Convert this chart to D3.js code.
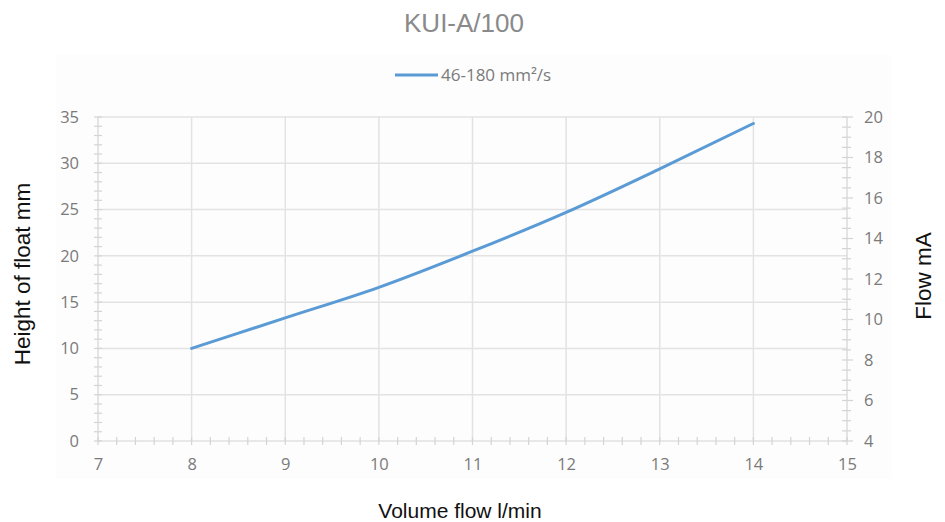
<!doctype html>
<html>
  <head>
    <style>
      body { margin: 0; background: #fff; }
      text { font-family: "Open Sans", sans-serif; }
    </style>
  </head>
  <body>
    <svg width="945" height="522" id="content"></svg>

    <script src="https://cdnjs.cloudflare.com/ajax/libs/d3/7.8.5/d3.min.js"></script>
    <script>
      // data
      const flow = [8, 9, 10, 11, 12, 13, 14]
      const floatHeight = [10, 13.3, 16.6, 20.5, 24.7, 29.4, 34.3]
      const seriesName = '46-180 mm²/s'
      const xTicks = [7, 8, 9, 10, 11, 12, 13, 14, 15]
      const yTicks = [0, 5, 10, 15, 20, 25, 30, 35]
      const y2Ticks = [4, 6, 8, 10, 12, 14, 16, 18, 20]

      const svg = d3.select('#content')
      const plotLeft = 98, plotRight = 847, plotTop = 117, plotBottom = 441

      const x = d3.scaleLinear().domain([7, 15]).range([plotLeft, plotRight])
      const y = d3.scaleLinear().domain([0, 35]).range([plotBottom, plotTop])
      const y2 = d3.scaleLinear().domain([4, 20]).range([plotBottom, plotTop])

      // faint chart area
      svg.append('rect')
        .attr('x', 56).attr('y', 55).attr('width', 836).attr('height', 424)
        .style('fill', '#fdfdfd')

      // grid
      svg.append('g').selectAll('line').data(yTicks.slice(1)).join('line')
        .attr('x1', plotLeft).attr('x2', plotRight)
        .attr('y1', d => y(d)).attr('y2', d => y(d))
        .style('stroke', '#e3e3e3').style('stroke-width', 1.5)
      svg.append('g').selectAll('line').data(xTicks.slice(1, -1)).join('line')
        .attr('x1', d => x(d)).attr('x2', d => x(d))
        .attr('y1', plotTop).attr('y2', plotBottom)
        .style('stroke', '#e3e3e3').style('stroke-width', 1.5)

      // axis lines + crossing ticks
      const axisColor = '#d4d4d4'
      const ax = svg.append('g').style('stroke', axisColor).style('stroke-width', 1.2)
      ax.append('line').attr('x1', plotLeft).attr('x2', plotLeft).attr('y1', plotTop).attr('y2', plotBottom)
      ax.append('line').attr('x1', plotRight).attr('x2', plotRight).attr('y1', plotTop).attr('y2', plotBottom)
      ax.append('line').attr('x1', plotLeft).attr('x2', plotRight).attr('y1', plotBottom).attr('y2', plotBottom)

      ax.append('g').selectAll('line').data(d3.range(0, 36, 1)).join('line')
        .attr('x1', plotLeft - 4).attr('x2', plotLeft + 4)
        .attr('y1', d => y(d)).attr('y2', d => y(d))
      ax.append('g').selectAll('line').data(d3.range(4, 20.01, 0.5)).join('line')
        .attr('x1', plotRight - 5)
        .attr('x2', d => plotRight + (d % 2 === 0 ? 6 : 4))
        .attr('y1', d => y2(d)).attr('y2', d => y2(d))
      ax.append('g').selectAll('line').data(d3.range(7, 15.01, 0.2)).join('line')
        .attr('x1', d => x(d)).attr('x2', d => x(d))
        .attr('y1', plotBottom - 4).attr('y2', plotBottom + 4)

      // tick labels via d3 axes
      const labelStyle = g => {
        g.select('.domain').remove()
        g.selectAll('line').remove()
        g.selectAll('text')
          .style('font-family', '"Open Sans", sans-serif')
          .style('font-size', '16.5px')
          .style('fill', '#7a7a7a')
      }
      svg.append('g').attr('transform', `translate(${plotLeft - 16},0)`)
        .call(d3.axisLeft(y).tickValues(yTicks).tickSize(0))
        .call(labelStyle)
      svg.append('g').attr('transform', `translate(${plotRight + 14},0)`)
        .call(d3.axisRight(y2).tickValues(y2Ticks).tickSize(0))
        .call(labelStyle)
      svg.append('g').attr('transform', `translate(0,${plotBottom + 14})`)
        .call(d3.axisBottom(x).tickValues(xTicks).tickSize(0))
        .call(labelStyle)

      // series
      const line = d3.line()
        .x((d, i) => x(flow[i]))
        .y(d => y(d))
        .curve(d3.curveMonotoneX)
      svg.append('path')
        .datum(floatHeight)
        .attr('d', line)
        .style('fill', 'none')
        .style('stroke', '#5b9bd5')
        .style('stroke-width', 3)
        .style('stroke-linecap', 'round')

      // legend
      svg.append('line')
        .attr('x1', 395).attr('x2', 438).attr('y1', 75).attr('y2', 75)
        .style('stroke', '#5b9bd5').style('stroke-width', 3)
      svg.append('text')
        .attr('x', 441).attr('y', 81)
        .style('font-size', '17px').style('fill', '#7a7a7a')
        .text(seriesName)

      // titles
      svg.append('text')
        .attr('x', 464).attr('y', 32)
        .attr('text-anchor', 'middle')
        .style('font-family', '"Liberation Sans", Arial, sans-serif')
        .style('font-size', '26px').style('fill', '#8a8a8a')
        .text('KUI-A/100')
      svg.append('text')
        .attr('x', 460).attr('y', 518)
        .attr('text-anchor', 'middle')
        .style('font-family', '"Liberation Sans", Arial, sans-serif')
        .style('font-size', '21px').style('fill', '#111')
        .text('Volume flow l/min')
      svg.append('text')
        .attr('transform', 'translate(30,274) rotate(-90)')
        .attr('text-anchor', 'middle')
        .style('font-family', '"Liberation Sans", Arial, sans-serif')
        .style('font-size', '22.5px').style('fill', '#111')
        .text('Height of float mm')
      svg.append('text')
        .attr('transform', 'translate(931,276) rotate(-90)')
        .attr('text-anchor', 'middle')
        .style('font-family', '"Liberation Sans", Arial, sans-serif')
        .style('font-size', '22.5px').style('fill', '#111')
        .text('Flow mA')
    </script>
  </body>
</html>
